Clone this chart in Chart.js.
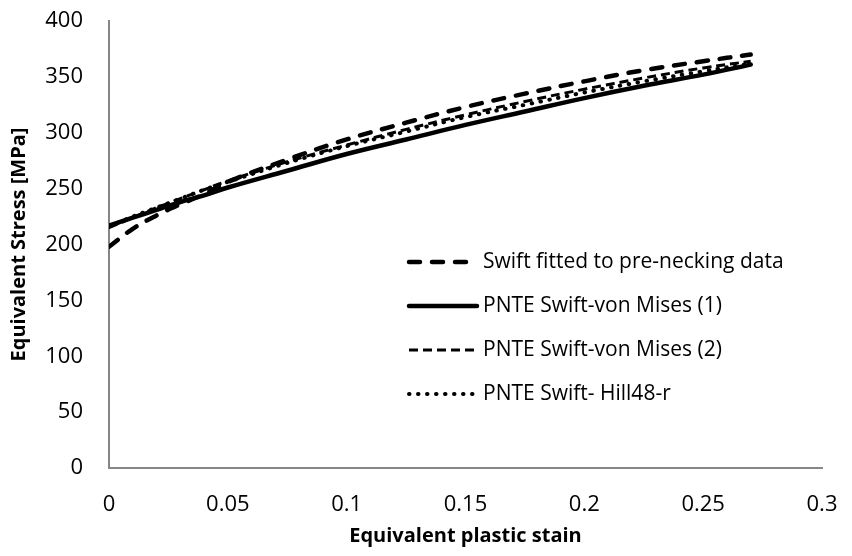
<!DOCTYPE html>
<html lang="en">
<head>
  <meta charset="UTF-8" />
  <title>Equivalent stress vs plastic strain</title>
  <script src="https://cdn.jsdelivr.net/npm/chart.js@4.4.3/dist/chart.umd.min.js"></script>
  <style>
    body { margin: 0; background: #ffffff; overflow: hidden; }
    canvas { display: block; }
  </style>
</head>
<body>
  <canvas id="chartStress" width="852" height="556"></canvas>

  <script>
    // strain points
    const strain = [0, 0.01, 0.02, 0.03, 0.04, 0.05, 0.075, 0.1, 0.125, 0.15, 0.175, 0.2, 0.225, 0.25, 0.27];

    // stress values [MPa]
    const swiftFitted = [198, 214, 226, 236, 245, 256, 276, 294, 309, 323, 335, 346, 356, 364, 370];
    const vonMises1   = [217, 224, 231, 238, 244, 251, 266, 281, 294, 307, 319, 331, 342, 352, 361];
    const vonMises2   = [215, 224, 233, 241, 249, 257, 274, 289, 303, 316, 328, 339, 349, 358, 364];
    const hill48r     = [216, 225, 233, 241, 249, 256, 273, 288, 301, 314, 325, 336, 346, 355, 362];

    const xTicks = [0, 0.05, 0.1, 0.15, 0.2, 0.25, 0.3];
    const yTicks = [0, 50, 100, 150, 200, 250, 300, 350, 400];

    const toPoints = ys => strain.map((x, i) => ({ x: x, y: ys[i] }));

    const FONT = '"Open Sans", sans-serif';

    // legend drawn inside the plot, like the original
    const insideLegend = {
      id: 'insideLegend',
      afterDraw(chart) {
        const ctx = chart.ctx;
        const x0 = 409, x1 = 477, tx = 483;
        const rows = [262, 306, 350, 394];
        chart.data.datasets.forEach((ds, i) => {
          const y = rows[i];
          ctx.save();
          ctx.strokeStyle = ds.borderColor;
          ctx.lineWidth = ds.borderWidth;
          ctx.lineCap = ds.borderCapStyle || 'butt';
          ctx.setLineDash(ds.borderDash || []);
          ctx.beginPath();
          ctx.moveTo(x0, y);
          ctx.lineTo(x1, y);
          ctx.stroke();
          ctx.restore();
          ctx.fillStyle = '#000';
          ctx.font = '21px ' + FONT;
          ctx.textBaseline = 'middle';
          ctx.fillText(ds.label, tx, y);
        });
      }
    };

    new Chart(document.getElementById('chartStress'), {
      type: 'scatter',
      data: {
        datasets: [
          {
            label: 'Swift fitted to pre-necking data',
            data: toPoints(swiftFitted),
            showLine: true,
            borderColor: '#000',
            borderWidth: 4.5,
            borderDash: [11, 12],
            borderCapStyle: 'round',
            pointRadius: 0,
            tension: 0.4
          },
          {
            label: 'PNTE Swift-von Mises (1)',
            data: toPoints(vonMises1),
            showLine: true,
            borderColor: '#000',
            borderWidth: 4.5,
            borderCapStyle: 'round',
            pointRadius: 0,
            tension: 0.4
          },
          {
            label: 'PNTE Swift-von Mises (2)',
            data: toPoints(vonMises2),
            showLine: true,
            borderColor: '#000',
            borderWidth: 3,
            borderDash: [9, 5],
            pointRadius: 0,
            tension: 0.4
          },
          {
            label: 'PNTE Swift- Hill48-r',
            data: toPoints(hill48r),
            showLine: true,
            borderColor: '#000',
            borderWidth: 4,
            borderDash: [0.5, 8.5],
            borderCapStyle: 'round',
            pointRadius: 0,
            tension: 0.4
          }
        ]
      },
      options: {
        responsive: false,
        animation: false,
        layout: { padding: { top: 21, right: 30, left: 0, bottom: 0 } },
        scales: {
          x: {
            type: 'linear',
            min: 0,
            max: 0.3,
            afterBuildTicks: axis => { axis.ticks = xTicks.map(v => ({ value: v })); },
            afterFit: axis => {
              axis.height = 88;
              axis.paddingLeft = 0;
              axis.paddingRight = 0;
            },
            ticks: {
              color: '#000',
              font: { family: FONT, size: 22 },
              padding: 24,
              maxRotation: 0,
              callback: v => String(v)
            },
            grid: { display: false, drawTicks: false },
            border: { color: '#868686', width: 2 },
            title: {
              display: true,
              text: 'Equivalent plastic stain',
              color: '#000',
              font: { family: FONT, size: 20, weight: 'bold' },
              padding: { top: 0, bottom: 8 }
            }
          },
          y: {
            min: 0,
            max: 400,
            afterBuildTicks: axis => { axis.ticks = yTicks.map(v => ({ value: v })); },
            afterFit: axis => {
              axis.width = 109;
              axis.paddingTop = 0;
              axis.paddingBottom = 0;
            },
            ticks: {
              color: '#000',
              font: { family: FONT, size: 22 },
              padding: 26
            },
            grid: { display: false, drawTicks: false },
            border: { color: '#868686', width: 2 },
            title: {
              display: true,
              text: 'Equivalent Stress [MPa]',
              color: '#000',
              font: { family: FONT, size: 20, weight: 'bold' },
              padding: { top: 7, bottom: 0 }
            }
          }
        },
        plugins: {
          legend: { display: false },
          tooltip: { enabled: false }
        }
      },
      plugins: [insideLegend]
    });
  </script>
</body>
</html>
